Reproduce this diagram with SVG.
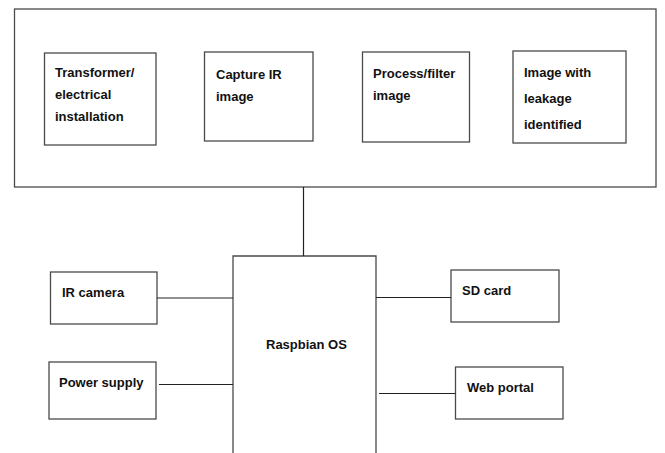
<svg xmlns="http://www.w3.org/2000/svg" width="665" height="453" viewBox="0 0 665 453">
<style>
.box{fill:#fff;stroke:#4a4a4a;stroke-width:1.3}
.ln{stroke:#222;stroke-width:1.2;fill:none}
text{font-family:"Liberation Sans",Arial,sans-serif;font-weight:bold;font-size:13px;fill:#111}
</style>
<rect width="665" height="453" fill="#fff"/>
<g id="system">
<rect class="box" x="14.5" y="9" width="641.5" height="178"/>
</g>
<g id="transformer">
<rect class="box" x="44.5" y="53" width="111.5" height="92"/>
<text x="55" y="77">Transformer/</text>
<text x="55" y="99">electrical</text>
<text x="55" y="121">installation</text>
</g>
<g id="capture">
<rect class="box" x="204.5" y="52" width="108.5" height="89"/>
<text x="216" y="79">Capture IR</text>
<text x="216" y="101">image</text>
</g>
<g id="process">
<rect class="box" x="362.5" y="52" width="107" height="90"/>
<text x="373" y="78">Process/filter</text>
<text x="373" y="100">image</text>
</g>
<g id="leakage">
<rect class="box" x="513" y="51" width="113" height="92"/>
<text x="524" y="77">Image with</text>
<text x="524" y="103">leakage</text>
<text x="524" y="129">identified</text>
</g>
<g id="raspbian">
<path class="box" d="M233 455 V256 H376 V455"/>
<text x="266" y="349">Raspbian OS</text>
</g>
<g id="ircamera">
<rect class="box" x="50.5" y="272" width="106.5" height="52"/>
<text x="62" y="297">IR camera</text>
</g>
<g id="power">
<rect class="box" x="49" y="362" width="107" height="57"/>
<text x="59" y="387">Power supply</text>
</g>
<g id="sdcard">
<rect class="box" x="451" y="270" width="108" height="52"/>
<text x="462" y="295">SD card</text>
</g>
<g id="webportal">
<rect class="box" x="455.5" y="367" width="107.5" height="52"/>
<text x="467" y="392">Web portal</text>
</g>
<g id="connectors">
<line class="ln" x1="303.5" y1="187" x2="303.5" y2="256"/>
<line class="ln" x1="157" y1="298" x2="233" y2="298"/>
<line class="ln" x1="159" y1="384.5" x2="233" y2="384.5"/>
<line class="ln" x1="376" y1="297.5" x2="451" y2="297.5"/>
<line class="ln" x1="379" y1="393.5" x2="455.5" y2="393.5"/>
</g>
</svg>
